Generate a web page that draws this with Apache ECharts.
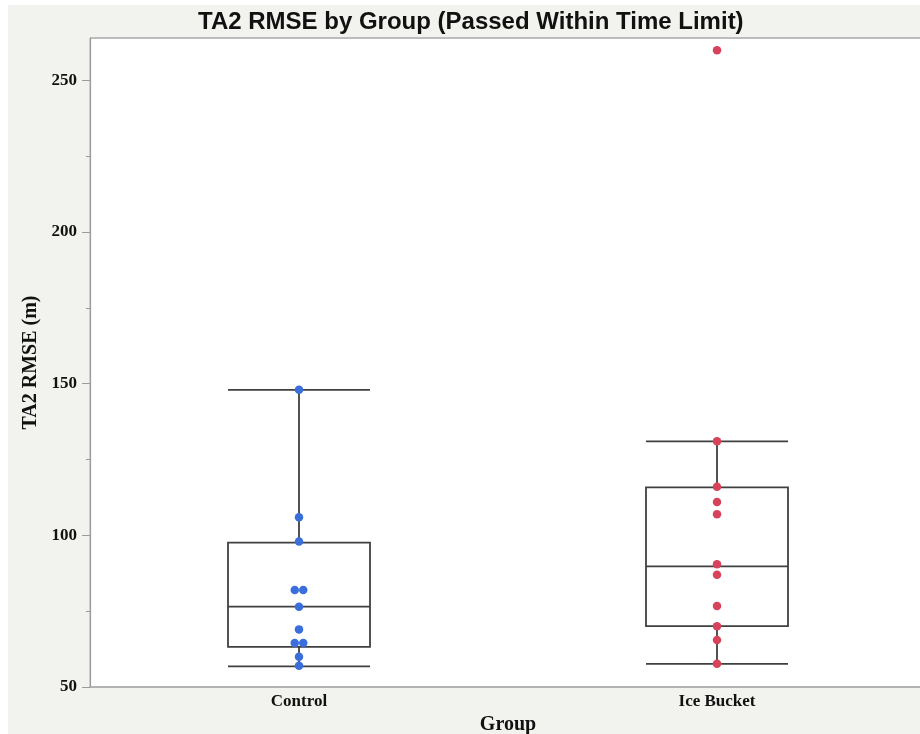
<!DOCTYPE html>
<html>
<head>
<meta charset="utf-8">
<script src="https://cdn.jsdelivr.net/npm/echarts@6/dist/echarts.min.js"></script>
<style>
  html, body { margin: 0; padding: 0; background: #ffffff; }
  #panel { position: absolute; left: 8px; top: 5px; width: 912px; height: 729px; background: #f2f2ee; }
  #chart { position: absolute; left: 0; top: 0; width: 920px; height: 734px; }
</style>
</head>
<body>
<div id="panel"></div>
<div id="chart"></div>
<script>
// Groups on the x axis
const groups = ['Control', 'Ice Bucket'];

// Individual TA2 RMSE values (m) for each group
const controlValues = [148, 106, 98, 82, 82, 76.5, 69, 64.5, 64.5, 60, 57];
const iceBucketValues = [260, 131, 116, 111, 107, 90.5, 87, 76.7, 70, 65.5, 57.7];

// Box summaries: [lower whisker, Q1, median, Q3, upper whisker]
const controlBox = [56.8, 63.2, 76.5, 97.6, 148];
const iceBucketBox = [57.6, 70.1, 89.8, 115.8, 131];

// Axis ticks
const yMajorTicks = [50, 100, 150, 200, 250];
const yMinorTicks = [75, 125, 175, 225];

const serif = '"Liberation Serif", "DejaVu Serif", serif';
const dotColors = ['#3a6edb', '#d6435a'];

// Spread points that share the same value side by side
function jittered(values, catIndex) {
  const counts = {};
  values.forEach(v => { counts[v] = (counts[v] || 0) + 1; });
  const seen = {};
  return values.map(v => {
    const n = counts[v];
    const k = seen[v] = (seen[v] || 0) + 1;
    const dx = n > 1 ? (k - (n + 1) / 2) * 8.5 : 0;
    return { value: [catIndex, v], symbolOffset: [dx, 0] };
  });
}

const chart = echarts.init(document.getElementById('chart'), null, { renderer: 'canvas' });

chart.setOption({
  backgroundColor: 'transparent',
  animation: false,
  title: {
    text: 'TA2 RMSE by Group (Passed Within Time Limit)',
    left: 193,
    top: 5,
    textStyle: {
      fontFamily: '"Liberation Sans", Arial, sans-serif',
      fontWeight: 'bold',
      fontSize: 24,
      color: '#111'
    }
  },
  grid: {
    left: 90,
    top: 38,
    width: 836,
    height: 649,
    outerBoundsMode: 'none',
    containLabel: false,
    show: true,
    backgroundColor: '#ffffff',
    borderColor: '#b5b5b5',
    borderWidth: 1
  },
  // heavier frame edge along the top of the plot
  graphic: [{
    type: 'line',
    shape: { x1: 90, y1: 38, x2: 920, y2: 38 },
    style: { stroke: '#bcbcbc', lineWidth: 2 },
    silent: true
  }],
  xAxis: [{
    type: 'category',
    data: groups,
    boundaryGap: true,
    axisLine: { show: true, lineStyle: { color: '#a8a8a8', width: 1.5 } },
    axisTick: { show: false },
    axisLabel: { margin: 6, fontFamily: serif, fontWeight: 'bold', fontSize: 17, color: '#111' },
    splitLine: { show: false },
    name: 'Group',
    nameLocation: 'middle',
    nameGap: 27,
    nameTextStyle: { fontFamily: serif, fontWeight: 'bold', fontSize: 20, color: '#111' }
  }],
  yAxis: [{
    type: 'value',
    min: 50,
    max: 264,
    interval: 50,
    axisLine: { show: true, lineStyle: { color: '#9a9a9a', width: 1.2 } },
    axisTick: { show: true, length: 8, customValues: yMajorTicks, lineStyle: { color: '#9a9a9a' } },
    axisLabel: { margin: 13, customValues: yMajorTicks, fontFamily: serif, fontWeight: 'bold', fontSize: 17, color: '#111' },
    splitLine: { show: false },
    name: 'TA2 RMSE (m)',
    nameLocation: 'middle',
    nameGap: 46,
    nameTextStyle: { fontFamily: serif, fontWeight: 'bold', fontSize: 20, color: '#111' }
  }, {
    type: 'value',
    min: 50,
    max: 264,
    interval: 50,
    position: 'left',
    axisLine: { show: false },
    axisTick: { show: true, length: 4, customValues: yMinorTicks, lineStyle: { color: '#9a9a9a' } },
    axisLabel: { show: false },
    splitLine: { show: false }
  }],
  series: [{
    type: 'boxplot',
    data: [controlBox, iceBucketBox],
    boxWidth: [142, 142],
    itemStyle: { color: 'transparent', borderColor: '#404040', borderWidth: 1.8 },
    z: 2
  }, {
    type: 'scatter',
    data: jittered(controlValues, 0),
    symbolSize: 8.5,
    itemStyle: { color: dotColors[0], opacity: 1 },
    z: 3
  }, {
    type: 'scatter',
    data: jittered(iceBucketValues, 1),
    symbolSize: 8.5,
    itemStyle: { color: dotColors[1], opacity: 1 },
    z: 3
  }]
});
</script>
</body>
</html>
